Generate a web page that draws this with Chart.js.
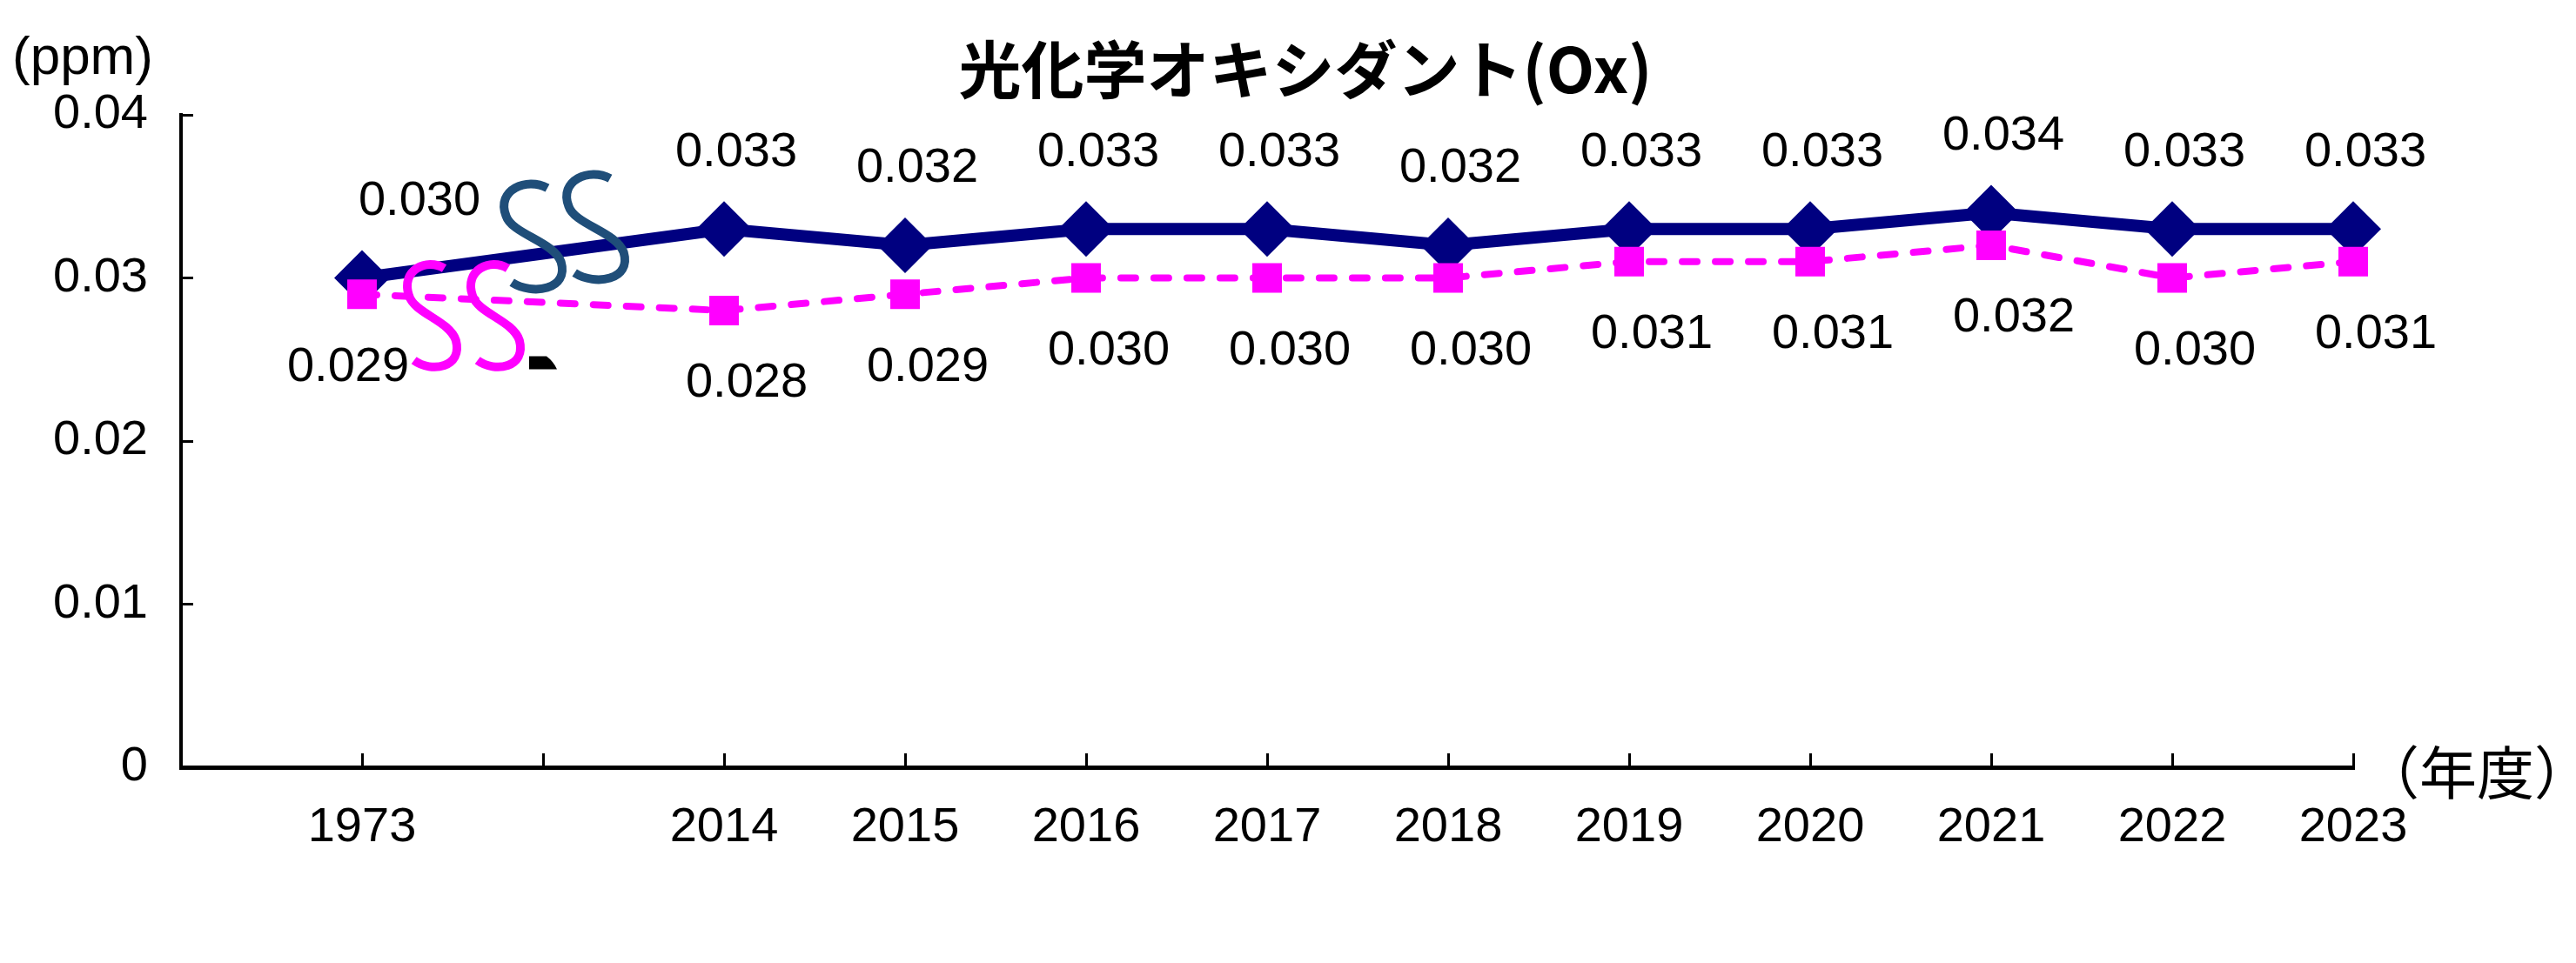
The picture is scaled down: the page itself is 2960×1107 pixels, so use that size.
<!DOCTYPE html>
<html>
<head>
<meta charset="utf-8">
<script src="https://cdn.jsdelivr.net/npm/chart.js@4"></script>
<style>
  html, body { margin: 0; padding: 0; background: #fff; }
  #wrap { width: 2960px; height: 1107px; }
</style>
</head>
<body>
<div id="wrap"><canvas id="oxChart" width="2960" height="1107"></canvas></div>
<script>
// blank slots: one at the y axis, one for the break between 1973 and 2014
const categories = ["", "1973", "", "2014", "2015", "2016", "2017", "2018", "2019", "2020", "2021", "2022", "2023"];
const upperSeries = [null, 0.030, null, 0.033, 0.032, 0.033, 0.033, 0.032, 0.033, 0.033, 0.034, 0.033, 0.033];
const lowerSeries = [null, 0.029, null, 0.028, 0.029, 0.030, 0.030, 0.030, 0.031, 0.031, 0.032, 0.030, 0.031];
const yTicks = [0, 0.01, 0.02, 0.03, 0.04];
const titleText = "光化学オキシダント(Ox)";

const numFont = "'Liberation Sans', Arial, sans-serif";
const jpFont = "'Noto Sans CJK JP', sans-serif";

const ctx = document.getElementById("oxChart").getContext("2d");

// wavy "S" break mark
function drawS(c, cx, cy, w, h) {
  c.beginPath();
  c.moveTo(cx + 0.25 * w, cy - 0.47 * h);
  c.bezierCurveTo(cx - 0.1 * w, cy - 0.58 * h, cx - 0.62 * w, cy - 0.45 * h, cx - 0.45 * w, cy - 0.2 * h);
  c.bezierCurveTo(cx - 0.35 * w, cy - 0.02 * h, cx + 0.35 * w, cy + 0.05 * h, cx + 0.48 * w, cy + 0.25 * h);
  c.bezierCurveTo(cx + 0.62 * w, cy + 0.52 * h, cx + 0.0 * w, cy + 0.58 * h, cx - 0.35 * w, cy + 0.45 * h);
  c.stroke();
}

const valueLabels = {
  id: "valueLabels",
  afterDatasetsDraw(chart) {
    const c = chart.ctx;
    c.save();
    c.font = "56px " + numFont;
    c.fillStyle = "#000";
    c.textAlign = "center";
    c.textBaseline = "middle";
    chart.data.datasets.forEach((ds, i) => {
      const meta = chart.getDatasetMeta(i);
      meta.data.forEach((pt, j) => {
        const v = ds.data[j];
        if (v === null) return;
        // first point sits next to the break marks, its labels are pushed aside
        const dx = j === 1 ? ds.firstDx : ds.labelDx;
        c.fillText(v.toFixed(3), pt.x + dx, pt.y + ds.labelDy);
      });
    });
    c.restore();
  },
};

const extras = {
  id: "extras",
  afterDraw(chart) {
    const c = chart.ctx;
    const xs = chart.scales.x;
    const ys = chart.scales.y;
    const bx = xs.getPixelForValue(2);
    const by = ys.getPixelForValue(0.03);
    c.save();
    c.lineWidth = 10;
    c.lineCap = "butt";
    c.strokeStyle = "#1F4E79";
    drawS(c, bx - 12, by - 48, 68, 118);
    drawS(c, bx + 60, by - 59, 68, 118);
    c.strokeStyle = "#FF00FF";
    drawS(c, bx - 128, by + 43, 58, 115);
    drawS(c, bx - 55, by + 43, 58, 115);
    // small black wedge
    c.fillStyle = "#000";
    c.beginPath();
    c.moveTo(bx - 16, by + 90);
    c.lineTo(bx + 4, by + 90);
    c.quadraticCurveTo(bx + 12, by + 96, bx + 16, by + 105);
    c.lineTo(bx - 16, by + 105);
    c.closePath();
    c.fill();

    c.fillStyle = "#000";
    c.textBaseline = "middle";
    c.textAlign = "center";
    c.font = "bold 72px " + jpFont;
    c.fillText(titleText, 1500, 80);
    c.font = "62px " + numFont;
    c.textAlign = "left";
    c.fillText("(ppm)", 14, 68);
    c.font = "66px " + jpFont;
    c.textAlign = "center";
    c.fillText("（年度）", 2846, 888);
    c.restore();
  },
};

const config = {
  type: "line",
  data: {
    labels: categories,
    datasets: [
      {
        label: "lower",
        data: lowerSeries,
        borderColor: "#FF00FF",
        backgroundColor: "#FF00FF",
        borderWidth: 8,
        borderDash: [17, 21],
        borderCapStyle: "round",
        pointStyle: "rect",
        pointRadius: 24,
        pointBorderWidth: 0,
        spanGaps: true,
        clip: false,
        labelDx: 26,
        labelDy: 84,
        firstDx: -16,
      },
      {
        label: "upper",
        data: upperSeries,
        borderColor: "#000080",
        backgroundColor: "#000080",
        borderWidth: 14,
        pointStyle: "rectRot",
        pointRadius: 32,
        pointBorderWidth: 0,
        spanGaps: true,
        clip: false,
        labelDx: 14,
        labelDy: -88,
        firstDx: 66,
      },
    ],
  },
  options: {
    responsive: false,
    animation: false,
    devicePixelRatio: 1,
    layout: { padding: { top: 132, right: 256, bottom: 0, left: 0 } },
    plugins: {
      legend: { display: false },
      tooltip: { enabled: false },
      title: { display: false },
    },
    scales: {
      x: {
        type: "category",
        offset: false,
        afterFit: (s) => { s.height = 225; },
        grid: { drawOnChartArea: false, drawTicks: true, tickLength: -16, color: "#000", lineWidth: 3 },
        border: { display: true, color: "#000", width: 5 },
        ticks: {
          autoSkip: false,
          maxRotation: 0,
          padding: 52,
          color: "#000",
          font: { family: numFont, size: 56 },
        },
      },
      y: {
        min: 0,
        max: 0.04,
        afterFit: (s) => { s.width = 208; },
        afterBuildTicks: (s) => { s.ticks = yTicks.map((v) => ({ value: v })); },
        grid: { drawOnChartArea: false, drawTicks: true, tickLength: -14, color: "#000", lineWidth: 3 },
        border: { display: true, color: "#000", width: 4 },
        ticks: {
          padding: 52,
          color: "#000",
          font: { family: numFont, size: 56 },
          callback: (v) => (v === 0 ? "0" : v.toFixed(2)),
        },
      },
    },
  },
  plugins: [valueLabels, extras],
};

const oxChart = new Chart(ctx, config);
</script>
</body>
</html>
